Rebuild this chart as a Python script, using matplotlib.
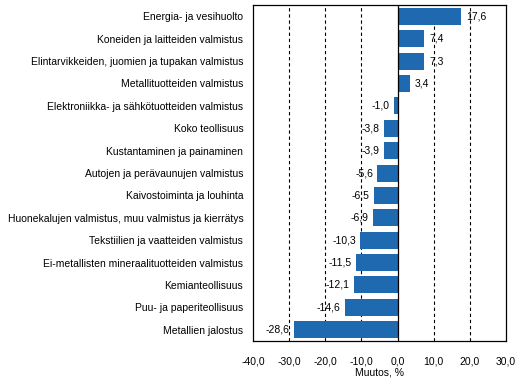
import numpy as np
import matplotlib.pyplot as plt

categories = [
    "Energia- ja vesihuolto",
    "Koneiden ja laitteiden valmistus",
    "Elintarvikkeiden, juomien ja tupakan valmistus",
    "Metallituotteiden valmistus",
    "Elektroniikka- ja sähkötuotteiden valmistus",
    "Koko teollisuus",
    "Kustantaminen ja painaminen",
    "Autojen ja perävaunujen valmistus",
    "Kaivostoiminta ja louhinta",
    "Huonekalujen valmistus, muu valmistus ja kierrätys",
    "Tekstiilien ja vaatteiden valmistus",
    "Ei-metallisten mineraalituotteiden valmistus",
    "Kemianteollisuus",
    "Puu- ja paperiteollisuus",
    "Metallien jalostus",
]
values = [17.6, 7.4, 7.3, 3.4, -1.0, -3.8, -3.9, -5.6, -6.5, -6.9,
          -10.3, -11.5, -12.1, -14.6, -28.6]
xticks = [-40, -30, -20, -10, 0, 10, 20, 30]

plt.rcParams['font.family'] = ['Liberation Sans', 'DejaVu Sans']
fs = 7.5

fig = plt.figure(figsize=(5.32, 3.91), dpi=100)
ax = fig.add_axes([0.4756, 0.128, 0.4756, 0.859])

y = np.arange(len(categories))
ax.barh(y, values, height=0.76, color='#1f69b1', zorder=3)

for v in xticks[1:-1]:
    if v == 0:
        ax.axvline(v, color='black', lw=0.9, zorder=4)
    else:
        ax.axvline(v, color='black', lw=0.8, ls=(0, (3, 2.5)), zorder=1)

for yi, v in zip(y, values):
    txt = f"{v:.1f}".replace('.', ',')
    if v >= 0:
        ax.text(v + 1.4, yi, txt, va='center', ha='left', fontsize=fs, zorder=5)
    else:
        ax.text(v - 1.2, yi, txt, va='center', ha='right', fontsize=fs, zorder=5)

ax.set_xlim(-40, 30)
ax.set_ylim(len(categories) - 0.5, -0.5)
ax.set_yticks(y)
ax.set_yticklabels(categories, fontsize=fs)
ax.set_xticks(xticks)
ax.set_xticklabels([f"{v:.1f}".replace('.', ',') for v in xticks], fontsize=fs)
ax.tick_params(length=0, pad=7)
ax.tick_params(axis='x', pad=11)
ax.set_xlabel("Muutos, %", fontsize=fs, labelpad=1)
for s in ax.spines.values():
    s.set_linewidth(0.9)

fig.savefig("out.png", dpi=100)
